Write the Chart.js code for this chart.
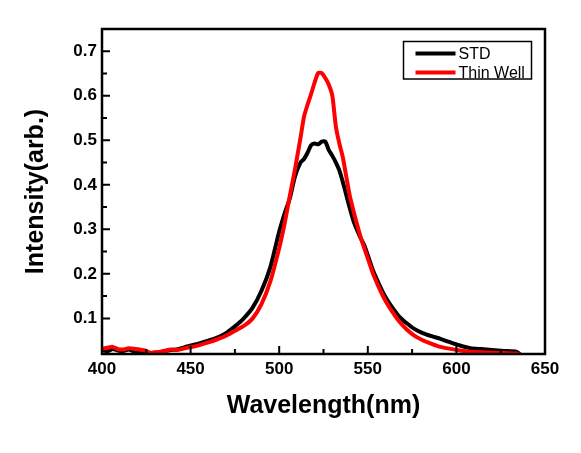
<!DOCTYPE html>
<html lang="en">
<head>
  <meta charset="UTF-8">
  <title>STD vs Thin Well</title>
  <script src="https://cdn.jsdelivr.net/npm/chart.js"></script>
  <style>
    html, body { margin: 0; padding: 0; background: #fff; }
    #wrap { width: 581px; height: 453px; position: relative; }
  </style>
</head>
<body>
  <div id="wrap"><canvas id="myChart"></canvas></div>

  <script>
    // spectra
    const wavelength = [400, 403, 406, 409, 412, 415, 418, 421, 424, 427, 430, 433, 436, 439, 442, 445, 448, 451, 455, 460,
      465, 470, 475, 480, 485, 490, 495, 500, 503, 506, 509, 512, 514, 516, 518, 520, 522, 524, 526, 528,
      530, 532, 534, 536, 538, 540, 542, 544, 546, 548, 550, 553, 556, 559, 562, 565, 568, 572, 576, 581,
      586, 591, 596, 602, 608, 614, 620, 627, 634, 638];

    const stdIntensity = [0.029, 0.026, 0.031, 0.028, 0.027, 0.030, 0.026, 0.027, 0.025, 0.022, 0.023, 0.024, 0.027, 0.029, 0.030, 0.033, 0.037, 0.040, 0.044, 0.050,
      0.057, 0.067, 0.082, 0.100, 0.124, 0.162, 0.215, 0.295, 0.335, 0.370, 0.420, 0.450, 0.458, 0.472, 0.489, 0.493, 0.491, 0.497, 0.497, 0.478,
      0.465, 0.450, 0.432, 0.405, 0.375, 0.345, 0.318, 0.298, 0.280, 0.264, 0.242, 0.207, 0.180, 0.155, 0.135, 0.118, 0.103, 0.089, 0.077, 0.067,
      0.060, 0.054, 0.047, 0.039, 0.033, 0.031, 0.029, 0.027, 0.025, 0.012];

    const wellIntensity = [0.032, 0.034, 0.036, 0.031, 0.030, 0.033, 0.032, 0.030, 0.028, 0.023, 0.024, 0.025, 0.028, 0.030, 0.029, 0.031, 0.034, 0.036, 0.040, 0.046,
      0.053, 0.061, 0.072, 0.083, 0.100, 0.132, 0.183, 0.258, 0.312, 0.375, 0.437, 0.505, 0.553, 0.580, 0.604, 0.630, 0.651, 0.651, 0.640, 0.625,
      0.600, 0.530, 0.492, 0.460, 0.415, 0.372, 0.340, 0.310, 0.282, 0.258, 0.235, 0.200, 0.172, 0.147, 0.126, 0.108, 0.092, 0.075, 0.062, 0.051,
      0.043, 0.036, 0.032, 0.028, 0.025, 0.024, 0.023, 0.022, 0.021, 0.012];

    const xTicks = [400, 450, 500, 550, 600, 650];
    const xMinorTicks = [425, 475, 525, 575, 625];
    const yTicks = [0.1, 0.2, 0.3, 0.4, 0.5, 0.6, 0.7];
    const yMinorTicks = [0.15, 0.25, 0.35, 0.45, 0.55, 0.65];

    const FONT = "'Liberation Sans', Arial, sans-serif";

    const toPoints = (xs, ys) => xs.map((x, i) => ({ x: x, y: ys[i] }));

    // box round the plot + inward tick marks
    const frameTicks = {
      id: 'frameTicks',
      afterDatasetsDraw(chart) {
        const { ctx, chartArea: a, scales } = chart;
        ctx.save();
        ctx.strokeStyle = '#000';
        ctx.lineWidth = 2;
        ctx.beginPath();
        xTicks.forEach(v => {
          const px = scales.x.getPixelForValue(v);
          ctx.moveTo(px, a.bottom); ctx.lineTo(px, a.bottom - 8);
        });
        xMinorTicks.forEach(v => {
          const px = scales.x.getPixelForValue(v);
          ctx.moveTo(px, a.bottom); ctx.lineTo(px, a.bottom - 5);
        });
        yTicks.forEach(v => {
          const py = scales.y.getPixelForValue(v);
          ctx.moveTo(a.left, py); ctx.lineTo(a.left + 8, py);
        });
        yMinorTicks.forEach(v => {
          const py = scales.y.getPixelForValue(v);
          ctx.moveTo(a.left, py); ctx.lineTo(a.left + 5, py);
        });
        ctx.stroke();
        ctx.lineWidth = 2.5;
        ctx.strokeRect(a.left, a.top, a.right - a.left, a.bottom - a.top);
        ctx.restore();
      }
    };

    // legend with a frame, top right inside the plot
    const boxLegend = {
      id: 'boxLegend',
      afterDraw(chart) {
        const { ctx, chartArea: a } = chart;
        const right = a.right - 13.5;
        const left = right - 128;
        const top = a.top + 12.5;
        const h = 37.5;
        ctx.save();
        ctx.fillStyle = '#fff';
        ctx.fillRect(left, top, right - left, h);
        ctx.strokeStyle = '#000';
        ctx.lineWidth = 1.5;
        ctx.strokeRect(left, top, right - left, h);
        ctx.font = '16px ' + FONT;
        ctx.textBaseline = 'middle';
        ctx.textAlign = 'left';
        const rows = [top + 12, top + 31];
        chart.data.datasets.forEach((ds, i) => {
          const y = rows[i];
          ctx.strokeStyle = ds.borderColor;
          ctx.lineWidth = 4;
          ctx.beginPath();
          ctx.moveTo(left + 12, y);
          ctx.lineTo(left + 52, y);
          ctx.stroke();
          ctx.fillStyle = '#000';
          ctx.fillText(ds.label, left + 55, y + 1);
        });
        ctx.restore();
      }
    };

    const ctx = document.getElementById('myChart').getContext('2d');
    new Chart(ctx, {
      type: 'line',
      data: {
        datasets: [{
          label: 'STD',
          data: toPoints(wavelength, stdIntensity),
          borderColor: '#000000',
          borderWidth: 4,
          pointRadius: 0,
          tension: 0.2,
          order: 1
        }, {
          label: 'Thin Well',
          data: toPoints(wavelength, wellIntensity),
          borderColor: '#ff0000',
          borderWidth: 4,
          pointRadius: 0,
          tension: 0.2,
          order: 0
        }]
      },
      options: {
        responsive: true,
        maintainAspectRatio: false,
        animation: false,
        events: [],
        layout: { padding: { top: 29, right: 36, left: 0, bottom: 0 } },
        plugins: {
          legend: { display: false },
          tooltip: { enabled: false }
        },
        scales: {
          x: {
            type: 'linear',
            min: 400,
            max: 650,
            afterBuildTicks: s => { s.ticks = xTicks.map(v => ({ value: v })); },
            afterFit: s => { s.height = 99; },
            grid: { display: false, drawTicks: false },
            border: { display: false },
            ticks: {
              padding: 5,
              color: '#000',
              maxRotation: 0,
              font: { family: FONT, size: 17, weight: 'bold' }
            },
            title: {
              display: true,
              text: 'Wavelength(nm)',
              color: '#000',
              font: { family: FONT, size: 25, weight: 'bold', lineHeight: 1.2 },
              padding: { top: 0, bottom: 32 }
            }
          },
          y: {
            type: 'linear',
            min: 0.02,
            max: 0.75,
            afterBuildTicks: s => { s.ticks = yTicks.map(v => ({ value: v })); },
            afterFit: s => { s.width = 102; },
            grid: { display: false, drawTicks: false },
            border: { display: false },
            ticks: {
              padding: 5,
              color: '#000',
              font: { family: FONT, size: 17, weight: 'bold' },
              callback: v => v.toFixed(1)
            },
            title: {
              display: true,
              text: 'Intensity(arb.)',
              color: '#000',
              font: { family: FONT, size: 25, weight: 'bold', lineHeight: 1.2 },
              padding: { top: 21, bottom: 0 }
            }
          }
        }
      },
      plugins: [frameTicks, boxLegend]
    });
  </script>
</body>
</html>
